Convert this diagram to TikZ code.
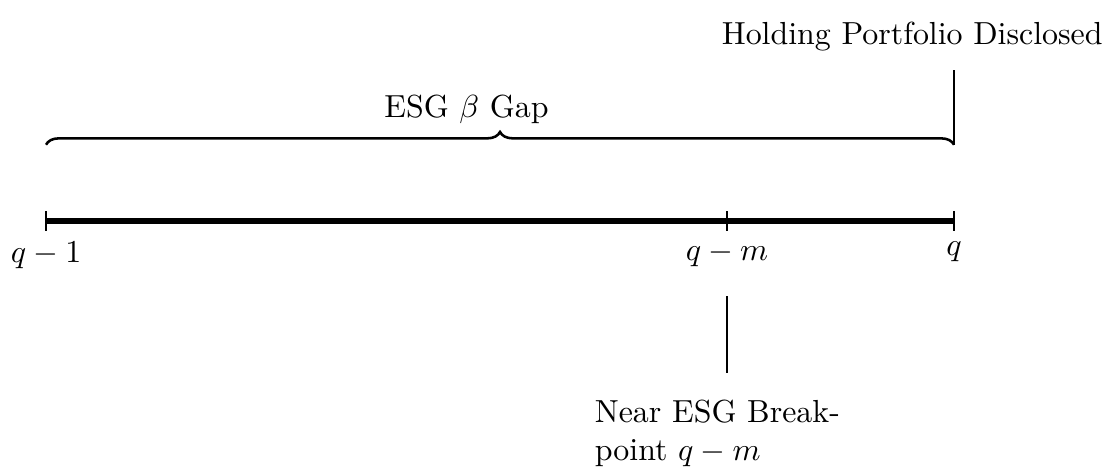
\documentclass[tikz,border=0pt]{standalone}
\usetikzlibrary{decorations.pathreplacing}
\begin{document}
\begin{tikzpicture}[
  axisline/.style={ultra thick},
  tickmark/.style={thin},
  marker/.style={thick},
  gapbrace/.style={thick,decorate,decoration={brace,amplitude=4pt}}
]
\useasboundingbox (-0.507,-2.775) rectangle (11.674,2.434);
% timeline
\coordinate (t0) at (0,0);
\coordinate (tm) at (7.5,0);
\coordinate (tq) at (10,0);
\draw[axisline] (t0) -- (tq);
% ticks
\coordinate (t0a) at (0,3pt); \coordinate (t0b) at (0,-3pt);
\coordinate (tma) at (7.5,3pt); \coordinate (tmb) at (7.5,-3pt);
\coordinate (tqa) at (10,3pt); \coordinate (tqb) at (10,-3pt);
\draw[tickmark] (t0a) -- (t0b);
\draw[tickmark] (tma) -- (tmb);
\draw[tickmark] (tqa) -- (tqb);
% tick labels
\node[below] (l0) at (t0b) {$q-1$};
\node[below] (lm) at (tmb) {$q-m$};
\node[below] (lq) at (tqb) {$q$};
% brace
\coordinate (b0) at (0,0.84);
\coordinate (b1) at (10,0.84);
\draw[gapbrace] (b0) -- (b1);
\node[anchor=base] (gap) at (4.63,1.145) {ESG $\beta$ Gap};
% disclosure marker
\coordinate (dtop) at (10,1.663);
\draw[marker] (b1) -- (dtop);
\node[anchor=base] (disc) at (9.54,1.94) {Holding Portfolio Disclosed};
% breakpoint marker
\coordinate (ma) at (7.5,-0.83);
\coordinate (mb) at (7.5,-1.67);
\draw[marker] (ma) -- (mb);
\node[anchor=north west,text width=3cm,align=left] (brk) at (5.92,-1.843) {Near ESG Breakpoint $q-m$};
\end{tikzpicture}
\end{document}
